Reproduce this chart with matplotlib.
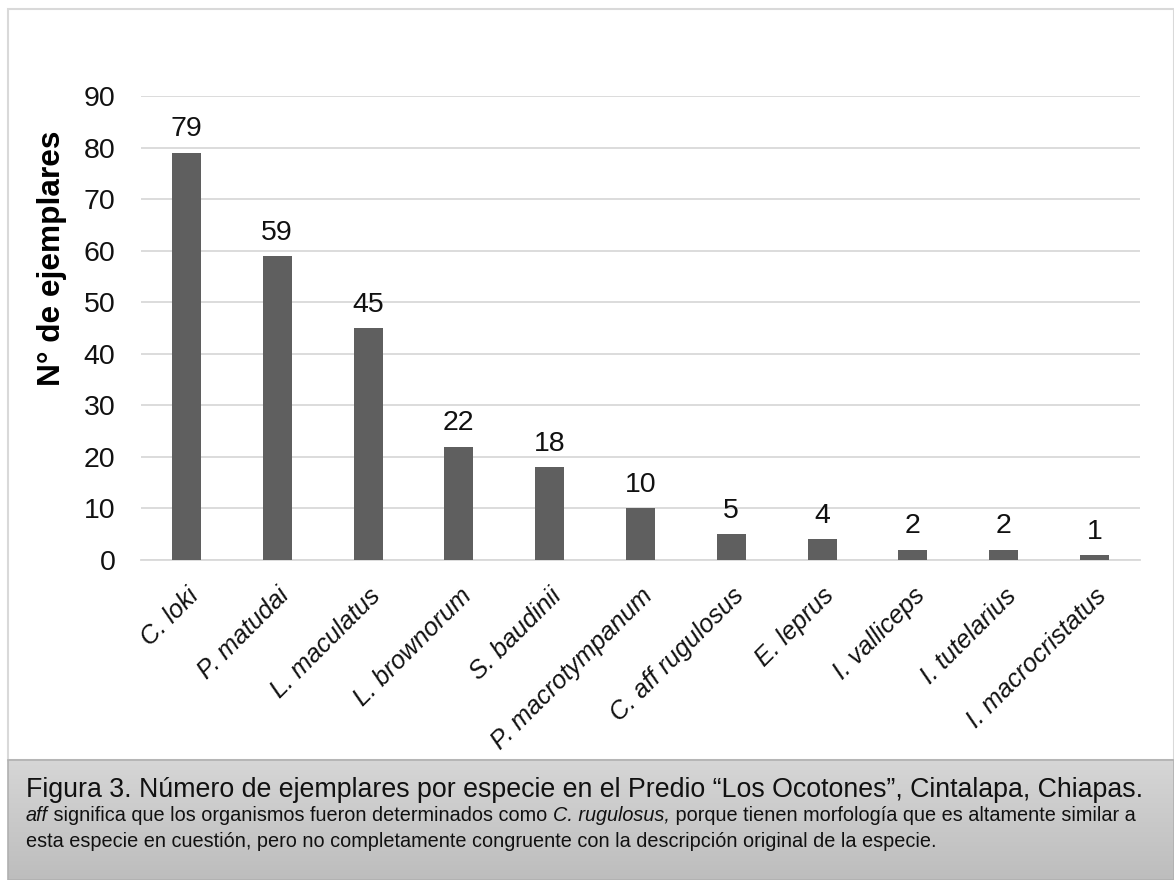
import numpy as np
import matplotlib
matplotlib.use('Agg')
import matplotlib.pyplot as plt
from matplotlib.patches import Rectangle
from matplotlib.colors import LinearSegmentedColormap

plt.rcParams['font.family'] = ['Liberation Sans', 'DejaVu Sans']

especies = ['C. loki', 'P. matudai', 'L. maculatus', 'L. brownorum', 'S. baudinii',
            'P. macrotympanum', 'C. aff rugulosus', 'E. leprus', 'I. valliceps',
            'I. tutelarius', 'I. macrocristatus']
ejemplares = [79, 59, 45, 22, 18, 10, 5, 4, 2, 2, 1]
y_ticks = [0, 10, 20, 30, 40, 50, 60, 70, 80, 90]

W, H = 1174, 880
fig = plt.figure(figsize=(W / 100, H / 100), dpi=100)

# outer frame of the chart
fig.patches.append(Rectangle((8 / W, 120 / H), 1 - 8 / W, 1 - 9 / H - 120 / H,
                             transform=fig.transFigure, fill=False,
                             edgecolor='#d9d9d9', linewidth=1.5))

ax = fig.add_axes([141 / W, 1 - 560 / H, (1140 - 141) / W, (560 - 96) / H])
x = np.arange(len(especies))
ax.bar(x, ejemplares, width=0.32, color='#5f5f5f', zorder=3)
for xi, v in zip(x, ejemplares):
    ax.text(xi, v + 2.0, str(v), ha='center', va='bottom', fontsize=20.5, color='#111111')

ax.set_ylim(0, 90)
ax.set_xlim(-0.5, len(especies) - 0.5)
ax.set_yticks(y_ticks)
ax.tick_params(axis='y', length=0, labelsize=20.5, pad=18.5, labelcolor='#111111')
ax.tick_params(axis='x', length=0, pad=17)
ax.set_xticks(x)
ax.set_xticklabels(especies, rotation=45, ha='right', rotation_mode='anchor',
                   fontsize=18.3, style='italic', color='#111111')
ax.grid(axis='y', color='#d9d9d9', linewidth=1.3, zorder=0)
for s in ['top', 'right', 'left']:
    ax.spines[s].set_visible(False)
ax.spines['bottom'].set_color('#d9d9d9')
ax.spines['bottom'].set_linewidth(1.3)
ax.set_ylabel('N° de ejemplares', fontsize=22.8, fontweight='bold')
ax.yaxis.set_label_coords(-0.074, 0.65)

# caption band with a vertical grey gradient
cap = fig.add_axes([8 / W, 0, 1 - 8 / W, 120 / H])
grad = np.linspace(0, 1, 256).reshape(-1, 1)
cap.imshow(grad, aspect='auto', extent=[0, 1, 0, 1], origin='upper',
           cmap=LinearSegmentedColormap.from_list('cap', ['#d6d6d6', '#bdbdbd']))
cap.set_xlim(0, 1)
cap.set_ylim(0, 1)
cap.axis('off')
fig.patches.append(Rectangle((8 / W, 0), 1 - 8 / W, 120 / H, transform=fig.transFigure,
                             fill=False, edgecolor='#b0b0b0', linewidth=1.2))

fig.text(26 / W, 1 - 797 / H,
         'Figura 3. Número de ejemplares por especie en el Predio “Los Ocotones”, Cintalapa, Chiapas.',
         fontsize=19.3, color='#111111', va='baseline')


def draw_runs(runs, x0, y0, size):
    renderer = fig.canvas.get_renderer()
    xp = x0
    for txt, italic in runs:
        t = fig.text(xp, y0, txt, fontsize=size, style='italic' if italic else 'normal',
                     color='#111111', va='baseline')
        xp += t.get_window_extent(renderer=renderer).width / W


draw_runs([('aff', True), (' significa que los organismos fueron determinados como ', False),
           ('C. rugulosus,', True),
           (' porque tienen morfología que es altamente similar a', False)],
          26 / W, 1 - 821 / H, 14.3)
draw_runs([('esta especie en cuestión, pero no completamente congruente con la descripción original de la especie.', False)],
          26 / W, 1 - 847 / H, 14.3)

fig.savefig('out.png', dpi=100)
